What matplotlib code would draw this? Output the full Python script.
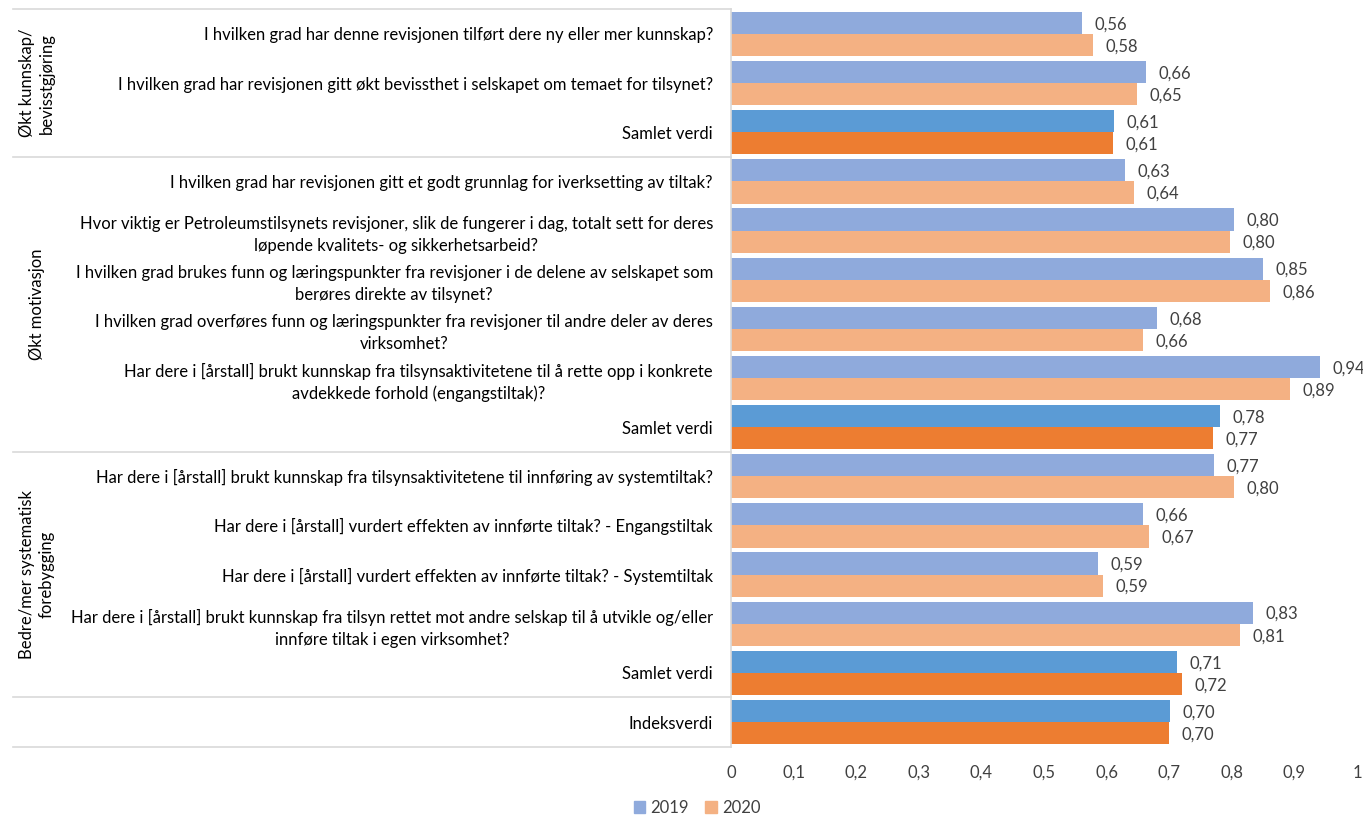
import matplotlib
matplotlib.use("Agg")
import matplotlib.pyplot as plt
from matplotlib.patches import Patch
from matplotlib.lines import Line2D
import numpy as np

plt.rcParams["font.family"] = ["Lato", "DejaVu Sans"]

# ── data ──────────────────────────────────────────────────────────────
categories = [
    "I hvilken grad har denne revisjonen tilført dere ny eller mer kunnskap?",
    "I hvilken grad har revisjonen gitt økt bevissthet i selskapet om temaet for tilsynet?",
    "Samlet verdi",
    "I hvilken grad har revisjonen gitt et godt grunnlag for iverksetting av tiltak?",
    "Hvor viktig er Petroleumstilsynets revisjoner, slik de fungerer i dag, totalt sett for deres\nløpende kvalitets- og sikkerhetsarbeid?",
    "I hvilken grad brukes funn og læringspunkter fra revisjoner i de delene av selskapet som\nberøres direkte av tilsynet?",
    "I hvilken grad overføres funn og læringspunkter fra revisjoner til andre deler av deres\nvirksomhet?",
    "Har dere i [årstall] brukt kunnskap fra tilsynsaktivitetene til å rette opp i konkrete\navdekkede forhold (engangstiltak)?",
    "Samlet verdi",
    "Har dere i [årstall] brukt kunnskap fra tilsynsaktivitetene til innføring av systemtiltak?",
    "Har dere i [årstall] vurdert effekten av innførte tiltak? - Engangstiltak",
    "Har dere i [årstall] vurdert effekten av innførte tiltak? - Systemtiltak",
    "Har dere i [årstall] brukt kunnskap fra tilsyn rettet mot andre selskap til å utvikle og/eller\ninnføre tiltak i egen virksomhet?",
    "Samlet verdi",
    "Indeksverdi",
]
is_total = [False, False, True, False, False, False, False, False, True,
            False, False, False, False, True, True]

v2019 = [0.561, 0.663, 0.612, 0.629, 0.803, 0.850, 0.681, 0.941, 0.781,
         0.772, 0.658, 0.586, 0.834, 0.712, 0.701]
v2020 = [0.578, 0.648, 0.610, 0.644, 0.797, 0.861, 0.658, 0.893, 0.770,
         0.803, 0.668, 0.594, 0.813, 0.720, 0.700]

groups = [
    ("Økt kunnskap/\nbevisstgjøring", 0, 2),
    ("Økt motivasjon", 3, 8),
    ("Bedre/mer systematisk\nforebygging", 9, 13),
]
separators = [-0.5, 2.5, 8.5, 13.5, 14.5]

xticks = [0, 0.1, 0.2, 0.3, 0.4, 0.5, 0.6, 0.7, 0.8, 0.9, 1.0]
series_names = ["2019", "2020"]

# colours
c19_light, c20_light = "#8FAADC", "#F4B183"
c19_dark, c20_dark = "#5B9BD5", "#ED7D31"
text_col = "#000000"
val_col = "#404040"
line_col = "#D9D9D9"

# ── figure ────────────────────────────────────────────────────────────
fig = plt.figure(figsize=(13.63, 8.19), dpi=100)
ax = fig.add_axes([0.5363, 0.0884, 0.4593, 0.9001])

y = np.arange(len(categories))
h = 0.45
cols19 = [c19_dark if t else c19_light for t in is_total]
cols20 = [c20_dark if t else c20_light for t in is_total]
ax.barh(y - h / 2, v2019, height=h, color=cols19, zorder=2)
ax.barh(y + h / 2, v2020, height=h, color=cols20, zorder=2)

fmt = lambda v: f"{v:.2f}".replace(".", ",")
for yi, a, b in zip(y, v2019, v2020):
    ax.annotate(fmt(a), (a, yi - h / 2), xytext=(9, -1), textcoords="offset points",
                ha="left", va="center", fontsize=12, color=val_col)
    ax.annotate(fmt(b), (b, yi + h / 2), xytext=(9, -1), textcoords="offset points",
                ha="left", va="center", fontsize=12, color=val_col)

ax.set_xlim(0, 1)
ax.set_ylim(14.5, -0.5)
ax.set_xticks(xticks)
ax.set_xticklabels([fmt(t).rstrip("0").rstrip(",") if t not in (0, 1) else str(int(t))
                    for t in xticks], fontsize=12, color=val_col)
ax.set_yticks(y)
ax.set_yticklabels(categories, fontsize=12, color=text_col, multialignment="center",
                   linespacing=1.45)
ax.tick_params(axis="both", length=0)
ax.tick_params(axis="y", pad=13)
ax.tick_params(axis="x", pad=13)

for s in ["top", "right", "bottom"]:
    ax.spines[s].set_visible(False)
ax.spines["left"].set_color(line_col)
ax.spines["left"].set_linewidth(1.2)

# separator lines across the label area
tr = ax.get_yaxis_transform()
x_left = (13 - 731) / 626
for sy in separators:
    ax.add_line(Line2D([x_left, 0], [sy, sy], transform=tr, color=line_col,
                       lw=1.2, clip_on=False))

# group labels (rotated)
x_grp = (37 - 731) / 626
for name, a, b in groups:
    ax.text(x_grp, (a + b) / 2, name, transform=tr, rotation=90, ha="center",
            va="center", fontsize=12, color=text_col, multialignment="center",
            linespacing=1.3)

# legend
handles = [Patch(color=c19_light), Patch(color=c20_light)]
fig.legend(handles, series_names, loc="center", bbox_to_anchor=(697 / 1363, 1 - 808 / 819),
           ncol=2, frameon=False, fontsize=12, handlelength=0.7, handleheight=0.7,
           handletextpad=0.3, columnspacing=1.0, labelcolor=val_col)

fig.savefig("out.png", dpi=100, facecolor="white")
